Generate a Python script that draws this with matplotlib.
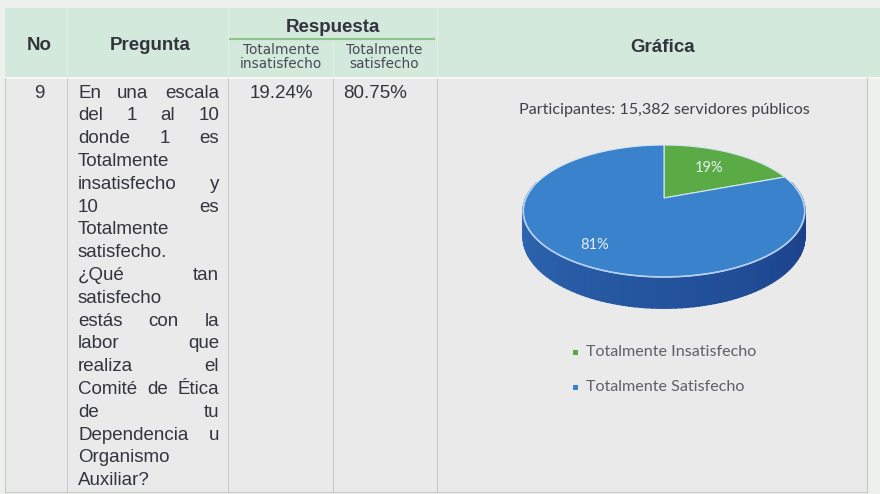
import numpy as np
import matplotlib.pyplot as plt
from matplotlib.patches import Rectangle, Polygon

# ---- data ----
row_no = "9"
question_lines = ["En una escala", "del 1 al 10", "donde 1 es", "Totalmente",
                  "insatisfecho y", "10 es", "Totalmente", "satisfecho.",
                  "¿Qué tan", "satisfecho", "estás con la", "labor que",
                  "realiza el", "Comité de Ética", "de tu", "Dependencia u",
                  "Organismo", "Auxiliar?"]
resp_headers = ["Totalmente\ninsatisfecho", "Totalmente\nsatisfecho"]
resp_values = ["19.24%", "80.75%"]
pie_labels = ["Totalmente Insatisfecho", "Totalmente Satisfecho"]
pie_values = [19.24, 80.75]
pie_colors = ["#5aab45", "#3a82cc"]
chart_title = "Participantes: 15,382 servidores públicos"

# ---- figure in pixel coordinates ----
fig = plt.figure(figsize=(8.8, 4.94), dpi=100)
fig.patch.set_facecolor("#eef0ee")
ax = fig.add_axes([0, 0, 1, 1])
ax.set_xlim(0, 880)
ax.set_ylim(494, 0)
ax.axis("off")

col_x = [5, 67, 228, 333, 437, 867]
head_top, head_bot, body_bot = 8, 78, 492
txt = "#34343f"
arial = "Liberation Sans"
calibri = "Lato"

# table backgrounds
ax.add_patch(Rectangle((col_x[0], head_top), 880 - col_x[0], head_bot - head_top,
                       facecolor="#d2e9db", edgecolor="none"))
ax.add_patch(Rectangle((col_x[0], head_bot), col_x[-1] - col_x[0], body_bot - head_bot,
                       facecolor="#e9eae9", edgecolor="none"))
ax.plot([col_x[0], 880], [head_bot, head_bot], color="#f6f8f6", lw=1.5)
for x in col_x:
    ax.plot([x, x], [head_bot, body_bot], color="#c8cbc8", lw=0.8)
for x in col_x[1:-1]:
    top = 40 if x == col_x[3] else head_top
    ax.plot([x, x], [top, head_bot], color="#e4f0e8", lw=0.8)
ax.plot([col_x[0], col_x[-1]], [body_bot, body_bot], color="#c8cbc8", lw=0.8)
ax.plot([230, 434], [39, 39], color="#8cc58e", lw=1.5)

# header text
ax.text(39, 46, "No", ha="center", va="center", fontsize=13.5, fontweight="bold",
        family=arial, color=txt)
ax.text(150, 46, "Pregunta", ha="center", va="center", fontsize=13.5,
        fontweight="bold", family=arial, color=txt)
ax.text(333, 27, "Respuesta", ha="center", va="center", fontsize=13.5,
        fontweight="bold", family=arial, color=txt)
ax.text(663, 47, "Gráfica", ha="center", va="center", fontsize=13.5,
        fontweight="bold", family=arial, color=txt)
for cx, h in zip([281, 384], resp_headers):
    ax.text(cx, 57, h, ha="center", va="center", fontsize=9.8, family="DejaVu Sans",
            color="#4a4a55", linespacing=0.95)

# body
ax.text(39, 93, row_no, ha="center", va="center", fontsize=13.5, family=arial, color=txt)
for x, v in zip([250, 343], resp_values):
    ax.text(x, 93, v, ha="left", va="center", fontsize=13.5, family=arial, color=txt)

# justified question text
left, right = 78, 219
renderer = fig.canvas.get_renderer()
for i, line in enumerate(question_lines):
    y = 93 + i * 22.8
    words = line.split(" ")
    objs = [ax.text(left, y, w, ha="left", va="center", fontsize=13.5,
                    family=arial, color=txt) for w in words]
    if len(words) > 1 and i < len(question_lines) - 1:
        widths = [t.get_window_extent(renderer).width for t in objs]
        gap = (right - left - sum(widths)) / (len(words) - 1)
        x = left
        for t, w in zip(objs, widths):
            t.set_x(x)
            x += w + gap

# ---- 3D pie (simple perspective) ----
cx, cy, a, b, depth, k = 664, 198, 138, 63.4, 25, 0.197
navy = np.array([20, 48, 122]) / 255


def pt(theta, r=1.0, dz=0.0):
    th = np.radians(theta)
    w = 1 + k * r * np.sin(th)
    return cx + a * r * np.cos(th) / w, cy + (-b * r * np.sin(th) + dz) / w


def hex2rgb(h):
    return np.array([int(h[j:j + 2], 16) for j in (1, 3, 5)]) / 255


# slice angle ranges, starting at 12 o'clock going clockwise
fracs = np.array(pie_values) / sum(pie_values)
ends = 90 - np.cumsum(fracs) * 360
starts = np.concatenate([[90], ends[:-1]])

# side walls (front half: 180..360 deg)
for s, e, col in zip(starts, ends, pie_colors):
    lo, hi = e % 360, (e % 360) + (s - e)
    base = hex2rgb(col)
    for off in (0, 360, -360):
        t0, t1 = max(lo + off, 165), min(hi + off, 375)
        if t1 <= t0:
            continue
        grid = np.linspace(t0, t1, int((t1 - t0) / 2) + 2)
        for g0, g1 in zip(grid[:-1], grid[1:]):
            f = 0.3 + 0.55 * np.clip(((g0 + g1) / 2 - 180) / 180, 0, 1)
            c = base * (1 - f) + navy * f
            p = [pt(g0), pt(g1), pt(g1, dz=depth), pt(g0, dz=depth)]
            ax.add_patch(Polygon(p, closed=True, facecolor=c, edgecolor=c, lw=1.2))

# top faces
for s, e, col in zip(starts, ends, pie_colors):
    th = np.linspace(s, e, 200)
    xs, ys = pt(th)
    verts = [(cx, cy)] + list(zip(xs, ys))
    ax.add_patch(Polygon(verts, closed=True, facecolor=col, edgecolor="#d8e6f2", lw=0.8))

# light rim between top and side
th = np.linspace(170, 370, 200)
xs, ys = pt(th)
ax.plot(xs, ys, color="#b4d0ee", lw=1.2)

# data labels
for s, e, v in zip(starts, ends, pie_values):
    mid = (s + e) / 2
    x, y = pt(mid, r=0.72)
    ax.text(x - 6, y + 4, f"{v:.0f}%", ha="center", va="center", fontsize=10.5,
            family=calibri, color="#e8eef5")

ax.text(664, 110, chart_title, ha="center", va="center", fontsize=11.6,
        family=calibri, color="#404048")

# legend
for i, (lab, col) in enumerate(zip(pie_labels, pie_colors)):
    y = 352 + i * 35
    ax.add_patch(Rectangle((573, y - 2.5), 5, 5, facecolor=col, edgecolor="none"))
    ax.text(586, y, lab, ha="left", va="center", fontsize=11.6, family=calibri,
            color="#5f6068")

fig.savefig("out.png", dpi=100, facecolor=fig.get_facecolor())
